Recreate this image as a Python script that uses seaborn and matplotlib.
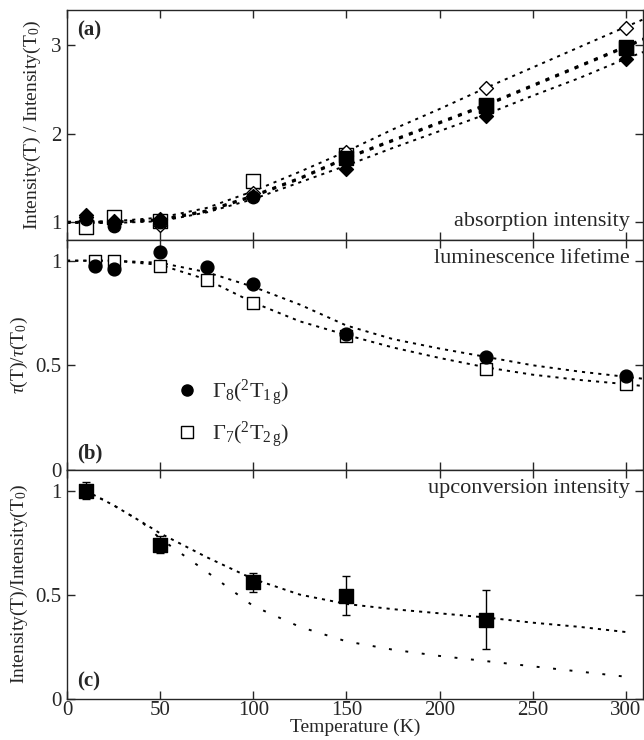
import numpy as np
import pandas as pd
import matplotlib
matplotlib.use("Agg")
import matplotlib.pyplot as plt
import seaborn as sns

# ---------------- data ----------------
# panel (a): absorption intensity ratios
T_a = [10, 25, 50, 100, 150, 225, 300]
a_circle = [1.03, 0.96, 1.00, 1.28, 1.73, 2.33, 2.97]
a_square = [0.94, 1.06, 1.01, 1.47, 1.76, 2.31, 2.98]
a_fdiam = [1.08, 1.01, 1.03, 1.30, 1.60, 2.20, 2.84]
a_odiam = [1.06, 1.00, 0.97, 1.33, 1.79, 2.52, 3.20]
T_a_fsq = [150, 225, 300]
a_fsquare = [1.73, 2.33, 2.97]

T_fit_a = [0, 25, 50, 75, 100, 125, 150, 175, 200, 225, 250, 275, 300, 310]
fit_a_upper = [1.0, 1.01, 1.05, 1.16, 1.35, 1.57, 1.80, 2.05, 2.28, 2.52, 2.75, 2.98, 3.21, 3.30]
fit_a_mid1 = [1.0, 1.0, 1.03, 1.13, 1.30, 1.50, 1.73, 1.93, 2.13, 2.33, 2.55, 2.77, 2.99, 3.08]
fit_a_mid2 = [1.0, 1.0, 1.02, 1.12, 1.29, 1.49, 1.72, 1.92, 2.12, 2.32, 2.54, 2.76, 2.98, 3.07]
fit_a_lower = [0.99, 0.99, 1.01, 1.11, 1.26, 1.45, 1.64, 1.84, 2.03, 2.22, 2.43, 2.63, 2.85, 2.93]

# panel (b): luminescence lifetime ratios
T_b = [15, 25, 50, 75, 100, 150, 225, 300]
b_circle = [0.975, 0.96, 1.04, 0.97, 0.89, 0.65, 0.54, 0.45]
b_square = [1.0, 1.0, 0.975, 0.91, 0.80, 0.64, 0.48, 0.41]

T_fit_b = [0, 25, 50, 75, 100, 125, 150, 175, 200, 225, 250, 275, 300, 310]
fit_b_circle = [1.0, 1.0, 0.99, 0.945, 0.875, 0.79, 0.69, 0.625, 0.58, 0.54, 0.50, 0.47, 0.445, 0.435]
fit_b_square = [1.0, 1.0, 0.98, 0.91, 0.80, 0.71, 0.645, 0.585, 0.535, 0.49, 0.455, 0.43, 0.41, 0.40]

# panel (c): upconversion intensity ratios
T_c = [10, 50, 100, 150, 225]
c_vals = [1.0, 0.74, 0.56, 0.495, 0.38]
c_err = [0.04, 0.04, 0.045, 0.095, 0.14]

T_fit_c = [10, 25, 40, 50, 75, 100, 125, 150, 175, 200, 225, 250, 275, 300]
fit_c_upper = [1.0, 0.93, 0.85, 0.795, 0.68, 0.575, 0.50, 0.455, 0.43, 0.41, 0.39, 0.365, 0.345, 0.32]
fit_c_lower = [1.0, 0.93, 0.85, 0.77, 0.61, 0.445, 0.345, 0.275, 0.235, 0.205, 0.18, 0.155, 0.13, 0.105]

x_ticks = [0, 50, 100, 150, 200, 250, 300]

# ---------------- style ----------------
sns.set_style("ticks")
plt.rcParams["font.family"] = ["Liberation Serif", "DejaVu Serif"]
plt.rcParams["mathtext.fontset"] = "custom"
plt.rcParams["mathtext.rm"] = "Liberation Serif"
plt.rcParams["mathtext.it"] = "Liberation Serif:italic"
plt.rcParams["mathtext.bf"] = "Liberation Serif:bold"
plt.rcParams["axes.linewidth"] = 1.0

fig = plt.figure(figsize=(6.44, 7.40), dpi=100)
L, R = 0.104, 0.998
axA = fig.add_axes([L, 0.676, R - L, 0.9865 - 0.676])
axB = fig.add_axes([L, 0.365, R - L, 0.676 - 0.365])
axC = fig.add_axes([L, 0.056, R - L, 0.365 - 0.056])

dot = (0, (1.6, 2.6))
lw = 1.4

def fitline(ax, x, y, ls=dot, w=lw):
    sns.lineplot(x=x, y=y, ax=ax, color="black", linestyle=ls, linewidth=w,
                 sort=False, legend=False)

def pts(ax, x, y, marker, filled=True, size=70, label=None):
    sns.scatterplot(x=x, y=y, ax=ax, marker=marker, s=size,
                    color="black" if filled else "white",
                    edgecolor="black", linewidth=1.0, zorder=5, label=label,
                    legend=False)

# panel (a)
fitline(axA, T_fit_a, fit_a_upper)
fitline(axA, T_fit_a, fit_a_mid1, w=1.8)
fitline(axA, T_fit_a, fit_a_mid2, w=1.8)
fitline(axA, T_fit_a, fit_a_lower)
pts(axA, T_a, a_square, "s", filled=False, size=90)
pts(axA, T_a, a_odiam, "D", filled=False, size=50)
pts(axA, T_a, a_fdiam, "D", filled=True, size=50)
pts(axA, T_a[:4], a_circle[:4], "o", filled=True, size=80)
pts(axA, T_a_fsq, a_fsquare, "s", filled=True, size=90)
axA.set_ylim(0.8, 3.4)
axA.set_yticks([1, 2, 3])
axA.set_yticklabels(["1", "2", "3"])
axA.set_ylabel("Intensity(T) / Intensity(T$_0$)", fontsize=14, labelpad=6)
axA.text(0.018, 0.955, "(a)", transform=axA.transAxes, fontsize=15,
         fontweight="bold", ha="left", va="top")
axA.text(0.978, 0.04, "absorption intensity", transform=axA.transAxes,
         fontsize=16, ha="right", va="bottom")

# panel (b)
fitline(axB, T_fit_b, fit_b_circle)
fitline(axB, T_fit_b, fit_b_square)
pts(axB, T_b, b_square, "s", filled=False, size=85)
pts(axB, T_b, b_circle, "o", filled=True, size=85)
axB.set_ylim(0, 1.1)
axB.set_yticks([0, 0.5, 1])
axB.set_yticklabels(["0", "0.5", "1"])
axB.set_ylabel(r"$\tau$(T)/$\tau$(T$_0$)", fontsize=14, labelpad=4)
axB.text(0.018, 0.03, "(b)", transform=axB.transAxes, fontsize=15,
         fontweight="bold", ha="left", va="bottom")
axB.text(0.978, 0.96, "luminescence lifetime", transform=axB.transAxes,
         fontsize=16, ha="right", va="top")
h1 = plt.Line2D([], [], marker="o", color="black", linestyle="none", markersize=8)
h2 = plt.Line2D([], [], marker="s", markerfacecolor="white", markeredgecolor="black",
                linestyle="none", markersize=8)
axB.legend([h1, h2],
           [r"$\Gamma_8$($^2$T$_{1\,\mathrm{g}}$)", r"$\Gamma_7$($^2$T$_{2\,\mathrm{g}}$)"],
           loc="upper left", bbox_to_anchor=(0.155, 0.49), frameon=False,
           fontsize=16, handletextpad=0.6, labelspacing=0.5, handlelength=1.0)

# panel (c)
fitline(axC, T_fit_c, fit_c_upper)
fitline(axC, T_fit_c, fit_c_lower, ls=(0, (1.5, 7)))
axC.errorbar(T_c, c_vals, yerr=c_err, fmt="none", ecolor="black",
             elinewidth=1.0, capsize=3, zorder=4)
pts(axC, T_c, c_vals, "s", filled=True, size=90)
axC.set_ylim(0, 1.1)
axC.set_yticks([0, 0.5, 1])
axC.set_yticklabels(["0", "0.5", "1"])
axC.set_ylabel("Intensity(T)/Intensity(T$_0$)", fontsize=14, labelpad=4)
axC.text(0.018, 0.03, "(c)", transform=axC.transAxes, fontsize=15,
         fontweight="bold", ha="left", va="bottom")
axC.text(0.978, 0.96, "upconversion intensity", transform=axC.transAxes,
         fontsize=16, ha="right", va="top")
axC.set_xlabel("Temperature (K)", fontsize=14, labelpad=-1)

for ax in (axA, axB, axC):
    ax.set_xlim(0, 309)
    ax.set_xticks(x_ticks)
    ax.tick_params(direction="in", top=True, right=True, length=6, width=1.0,
                   labelsize=15)
    ax.tick_params(axis="y", pad=4)
    ax.tick_params(axis="x", pad=2)
    for s in ax.spines.values():
        s.set_visible(True)
        s.set_linewidth(1.0)
for ax in (axA, axB):
    ax.set_xticklabels([])
    ax.set_xlabel("")
axC.set_xticklabels([str(t) for t in x_ticks])

fig.savefig("out.png", dpi=100)
